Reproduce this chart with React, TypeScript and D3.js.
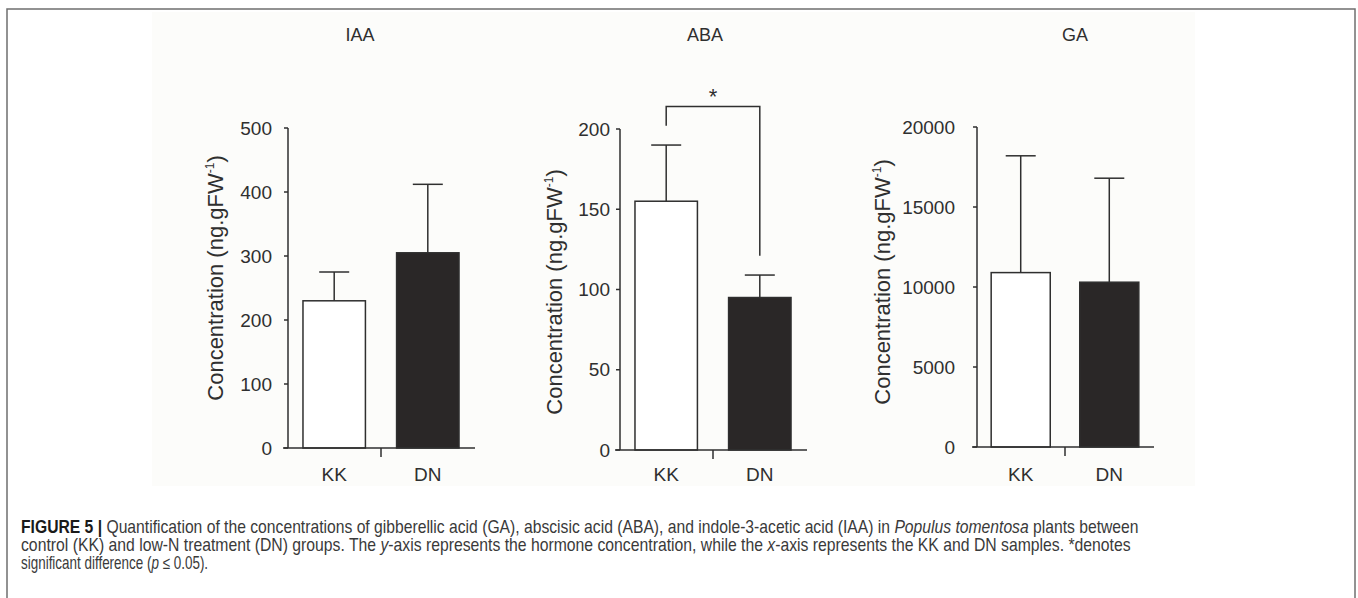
import React, { useLayoutEffect, useRef, useState } from 'react';
import * as d3 from 'd3';

// groups on the x axis
const groups = ['KK', 'DN'];

// panel data (mean and upper SD)
const panelNames = ['IAA', 'ABA', 'GA'];
const iaaMeans = [230, 305];
const iaaSd = [45, 107];
const abaMeans = [155, 95];
const abaSd = [35, 14];
const gaMeans = [10900, 10300];
const gaSd = [7300, 6500];

const iaaTicks = [0, 100, 200, 300, 400, 500];
const abaTicks = [0, 50, 100, 150, 200];
const gaTicks = [0, 5000, 10000, 15000, 20000];

// significance bracket for ABA (in data units)
const bracketTop = 214;
const bracketLeftEnd = 202;
const bracketRightEnd = 121;

const FONT = '"Liberation Sans", Arial, Helvetica, sans-serif';
const INK = '#2f2f2f';

const panels = [
  { name: panelNames[0], means: iaaMeans, sd: iaaSd, ticks: iaaTicks, max: 500,
    axisX: 288, y0: 448, y1: 128, width: 186, tickRight: 272, labelX: 223, labelY: 278, titleX: 360 },
  { name: panelNames[1], means: abaMeans, sd: abaSd, ticks: abaTicks, max: 200,
    axisX: 620, y0: 450, y1: 129, width: 186, tickRight: 610, labelX: 562, labelY: 292, titleX: 705 },
  { name: panelNames[2], means: gaMeans, sd: gaSd, ticks: gaTicks, max: 20000,
    axisX: 977, y0: 447, y1: 127, width: 176, tickRight: 955, labelX: 890, labelY: 282, titleX: 1075 },
];

// caption line widths measured on the reference
const captionWidths = [1117, 1109, 187];
const captionBaselines = [533, 551, 569];

const Panel = ({ p, showBracket }) => {
  const x = d3.scaleBand().domain(groups).range([p.axisX, p.axisX + p.width]).paddingInner(0.333).paddingOuter(0.16);
  const y = d3.scaleLinear().domain([0, p.max]).range([p.y0, p.y1]);
  const bw = x.bandwidth();
  const midTick = (x('KK') + bw + x('DN')) / 2;
  const cap = 15;

  return (
    <g>
      <text x={p.titleX} y={41} textAnchor="middle" fontFamily={FONT} fontSize={18} fill={INK}>{p.name}</text>

      {/* y axis */}
      <line x1={p.axisX} x2={p.axisX} y1={y(p.max)} y2={y(0)} stroke={INK} strokeWidth={1.5} />
      {p.ticks.map((t) => (
        <g key={t}>
          <line x1={p.axisX - 4} x2={p.axisX} y1={y(t)} y2={y(t)} stroke={INK} strokeWidth={1.5} />
          <text x={p.tickRight} y={y(t)} dy="0.35em" textAnchor="end" fontFamily={FONT} fontSize={19} fill={INK}>{t}</text>
        </g>
      ))}
      <text transform={`translate(${p.labelX},${p.labelY}) rotate(-90)`} textAnchor="middle" fontFamily={FONT} fontSize={22} fill={INK}>
        Concentration (ng.gFW<tspan fontSize={12} dy={-9}>-1</tspan><tspan dy={9}>)</tspan>
      </text>

      {/* bars */}
      {groups.map((g, i) => (
        <rect key={g} x={x(g)} y={y(p.means[i])} width={bw} height={y(0) - y(p.means[i])}
          fill={i === 0 ? '#ffffff' : '#2a2727'} stroke={INK} strokeWidth={1.5} />
      ))}
      {groups.map((g, i) => {
        const cx = x(g) + bw / 2;
        const top = y(p.means[i] + p.sd[i]);
        return (
          <g key={g + 'e'} stroke={INK} strokeWidth={1.5}>
            <line x1={cx} x2={cx} y1={y(p.means[i])} y2={top} />
            <line x1={cx - cap} x2={cx + cap} y1={top} y2={top} />
          </g>
        );
      })}

      {/* x axis */}
      <line x1={p.axisX - 5} x2={p.axisX + p.width + 1} y1={y(0)} y2={y(0)} stroke={INK} strokeWidth={1.5} />
      <line x1={midTick} x2={midTick} y1={y(0)} y2={y(0) + 9} stroke={INK} strokeWidth={1.5} />
      {groups.map((g) => (
        <text key={g + 'l'} x={x(g) + bw / 2} y={481} textAnchor="middle" fontFamily={FONT} fontSize={19} fill={INK}>{g}</text>
      ))}

      {showBracket && (
        <g>
          <path
            d={`M${x('KK') + bw / 2},${y(bracketLeftEnd)}V${y(bracketTop)}H${x('DN') + bw / 2}V${y(bracketRightEnd)}`}
            fill="none" stroke={INK} strokeWidth={1.5} />
          <text x={(x('KK') + x('DN') + bw) / 2} y={104} textAnchor="middle" fontFamily={FONT} fontSize={22} fill={INK}>*</text>
        </g>
      )}
    </g>
  );
};

// caption: a regular face squeezed horizontally to look like the condensed journal font
const Caption = () => {
  const refs = [useRef(null), useRef(null), useRef(null)];
  const [scales, setScales] = useState([0.8, 0.8, 0.8]);

  useLayoutEffect(() => {
    const s = refs.map((r, i) => {
      const w = r.current ? r.current.getComputedTextLength() : 0;
      return w > 0 ? captionWidths[i] / w : 0.8;
    });
    setScales(s);
  }, []);

  const lines = [
    <>
      <tspan fontWeight="bold" fill="#1a1a1a">FIGURE 5 |</tspan> Quantification of the concentrations of gibberellic acid (GA), abscisic acid (ABA), and indole-3-acetic acid (IAA) in <tspan fontStyle="italic">Populus tomentosa</tspan> plants between
    </>,
    <>
      control (KK) and low-N treatment (DN) groups. The <tspan fontStyle="italic">y</tspan>-axis represents the hormone concentration, while the <tspan fontStyle="italic">x</tspan>-axis represents the KK and DN samples. *denotes
    </>,
    <>
      significant difference (<tspan fontStyle="italic">p</tspan> ≤ 0.05).
    </>,
  ];

  return (
    <g fontFamily={FONT} fontSize={17.5} fill="#3a3a3a">
      {lines.map((content, i) => (
        <g key={i} transform={`translate(21,${captionBaselines[i]}) scale(${scales[i]},1)`}>
          <text ref={refs[i]} x={0} y={0}>{content}</text>
        </g>
      ))}
    </g>
  );
};

export default function App() {
  return (
    <svg width={1358} height={598} style={{ position: 'absolute', left: 0, top: 0, background: '#ffffff' }}>
      <rect x={152} y={12} width={1043} height={474} fill="#fcfcfa" />
      <rect x={7} y={9} width={1348} height={600} fill="none" stroke="#6f6f6f" strokeWidth={1.5} />

      {panels.map((p, i) => (
        <Panel key={p.name} p={p} showBracket={i === 1} />
      ))}

      <Caption />
    </svg>
  );
}
